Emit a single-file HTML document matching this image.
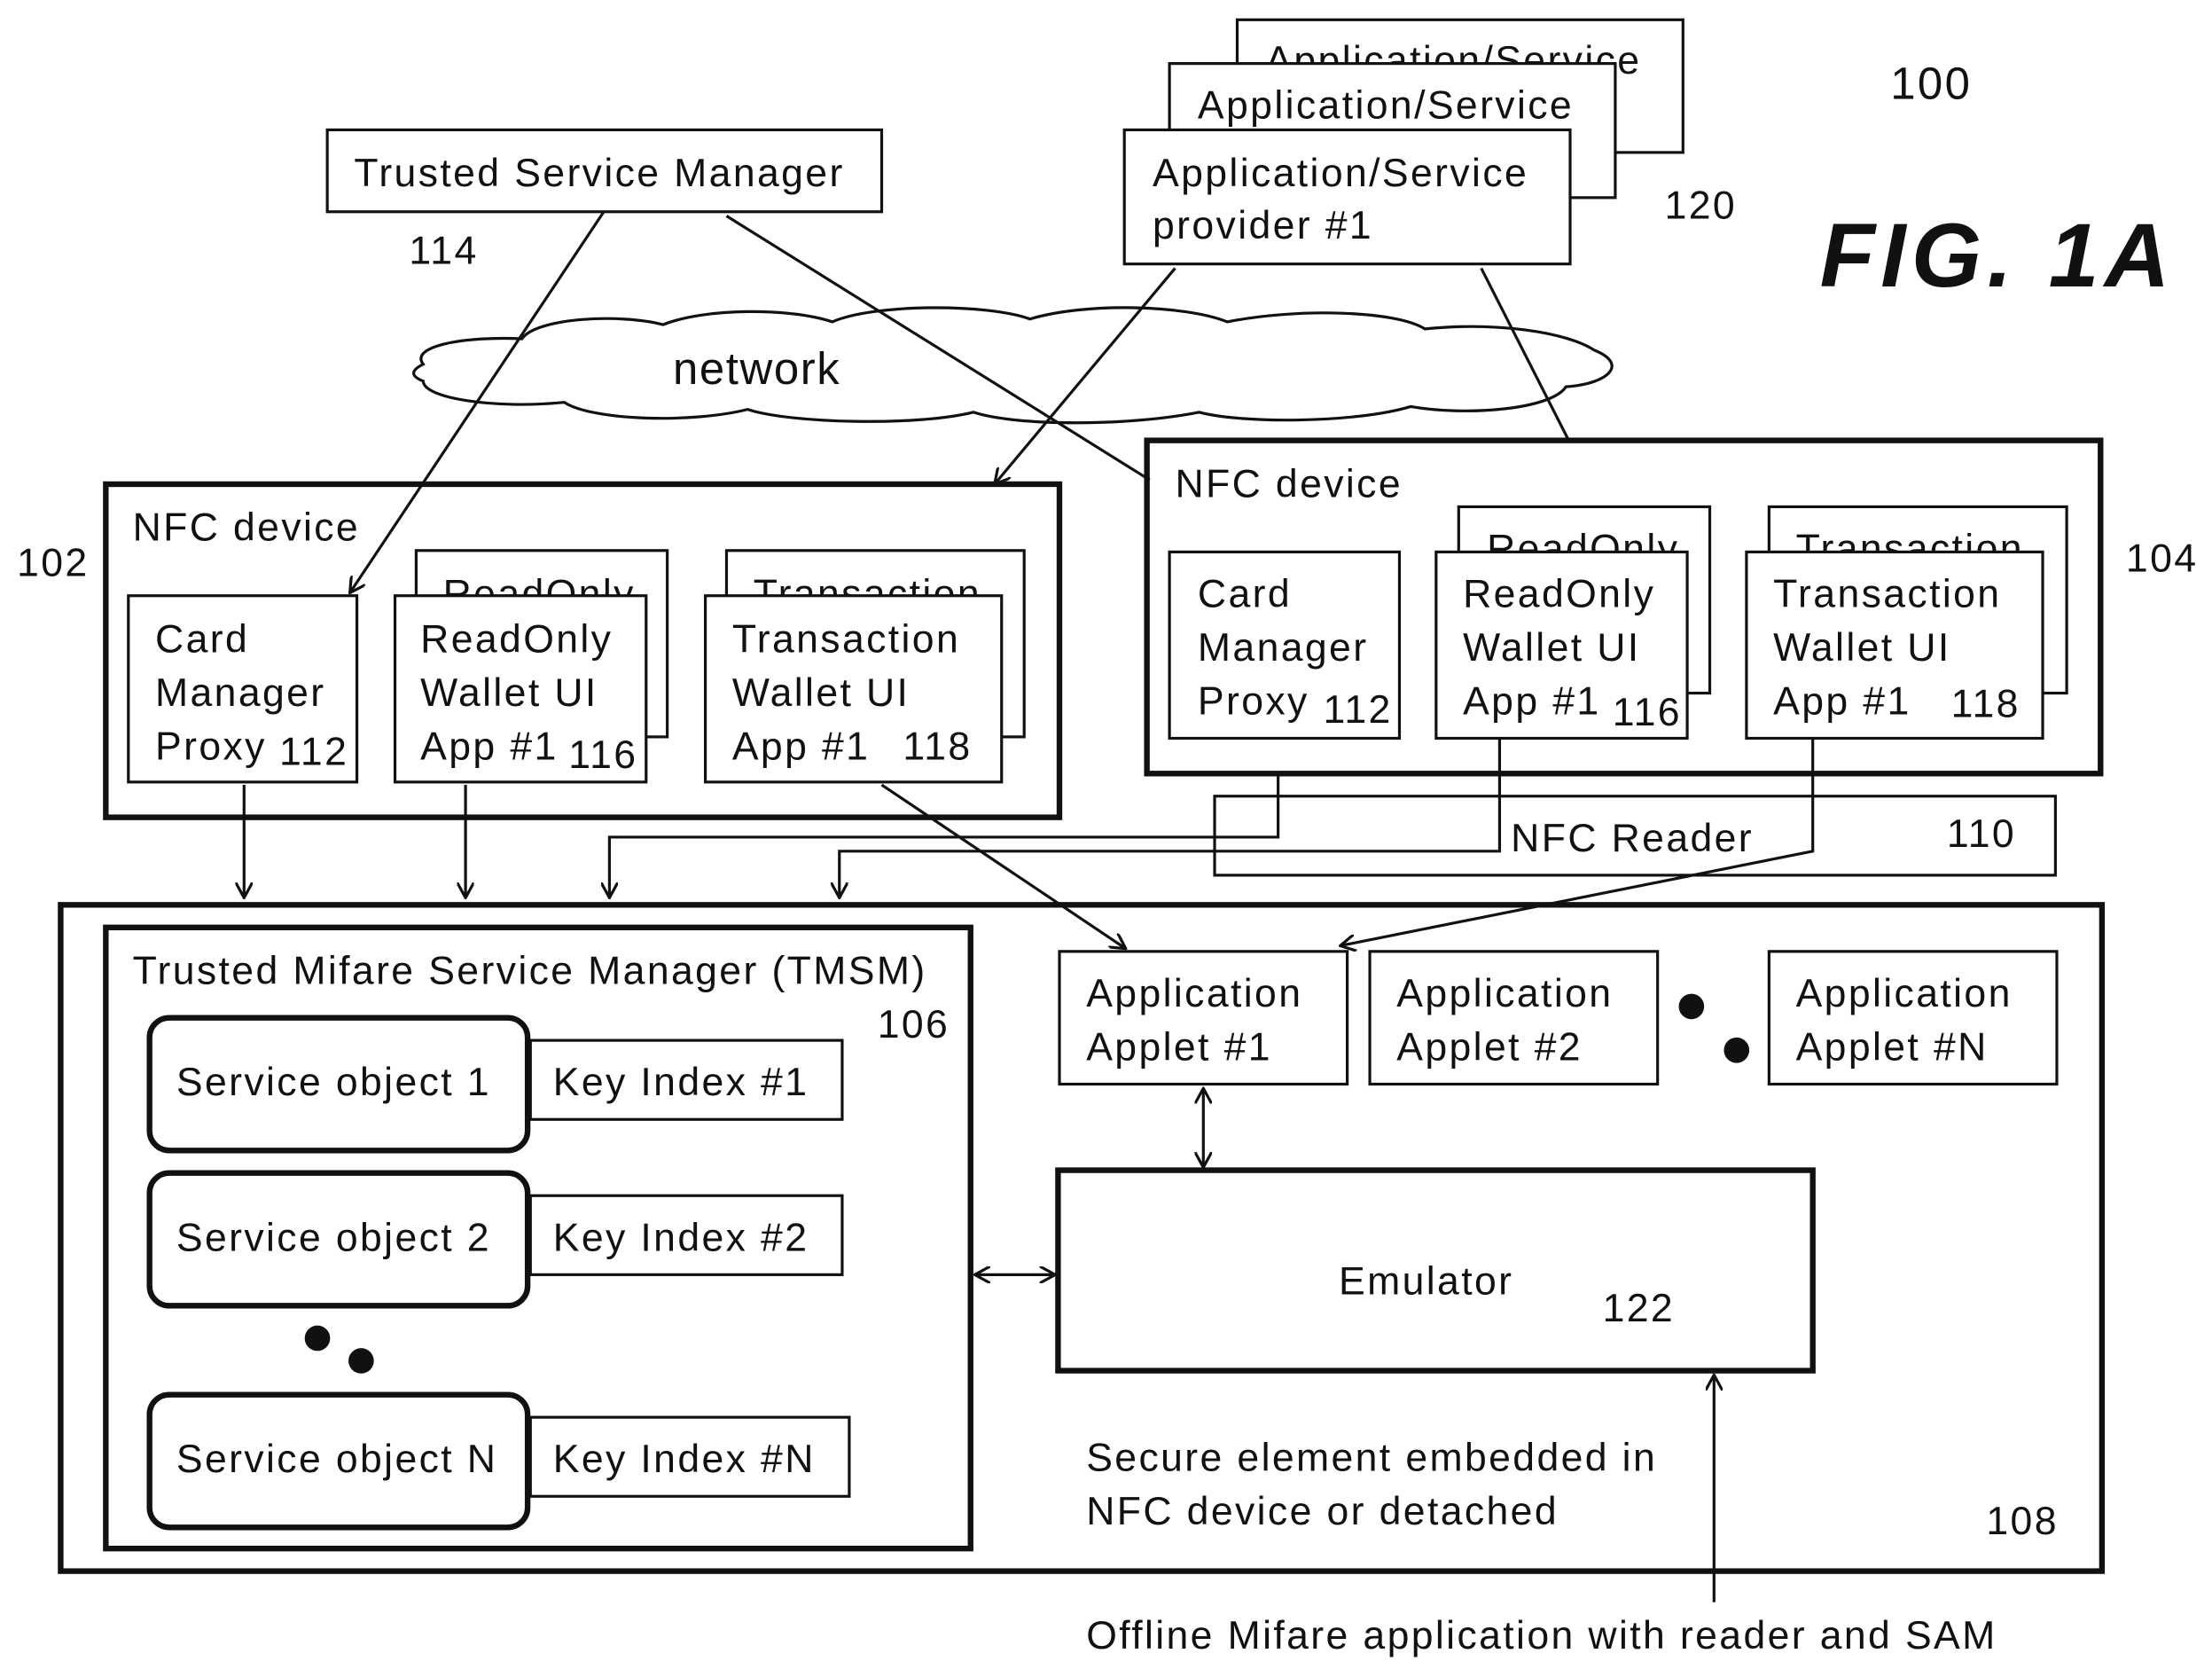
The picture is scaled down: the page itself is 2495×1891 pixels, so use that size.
<!DOCTYPE html>
<html><head><meta charset="utf-8"><style>
html,body{margin:0;padding:0;background:#fff}
svg{display:block}
text{font-family:"Liberation Sans",Arial,sans-serif;font-size:28px;fill:#111;letter-spacing:1.5px}
</style></head><body>
<svg width="2495" height="1891" viewBox="0 0 1568 1188" preserveAspectRatio="none" xmlns="http://www.w3.org/2000/svg">
<defs>
<marker id="a" markerWidth="12" markerHeight="12" refX="11" refY="6" orient="auto" markerUnits="userSpaceOnUse">
<path d="M0,0 L11,6 L0,12" fill="none" stroke="#111" stroke-width="2"/></marker>
<marker id="s" markerWidth="12" markerHeight="12" refX="1" refY="6" orient="auto" markerUnits="userSpaceOnUse">
<path d="M12,0 L1,6 L12,12" fill="none" stroke="#111" stroke-width="2"/></marker>
</defs>
<g fill="#fff" stroke="#111" stroke-width="2">
<rect x="232" y="92" width="393" height="58"/>
<rect x="877" y="14" width="316" height="94"/>
</g>
<text x="897" y="52">Application/Service</text>
<rect x="829" y="45" width="316" height="95" fill="#fff" stroke="#111" stroke-width="2"/>
<text x="849" y="84">Application/Service</text>
<rect x="797" y="92" width="316" height="95" fill="#fff" stroke="#111" stroke-width="2"/>
<path fill="#fff" stroke="#111" stroke-width="2" d="M300,258 C290,245 330,238 370,240 C380,225 440,222 470,230 C500,218 560,218 590,228 C620,215 700,215 730,226 C770,214 840,216 870,228 C920,218 990,220 1010,233 C1060,228 1110,235 1130,248 C1155,258 1140,272 1110,274 C1100,290 1040,295 1000,288 C960,300 880,300 850,292 C800,302 720,302 690,292 C650,302 560,300 530,290 C490,300 420,298 400,285 C350,290 300,282 300,270 C290,266 292,262 300,258 Z"/>
<g fill="#fff" stroke="#111">
<rect x="75" y="343" width="676" height="236" stroke-width="4"/>
<rect x="813" y="312" width="676" height="236" stroke-width="4"/>
<g stroke-width="2">
<rect x="91" y="422" width="162" height="132"/>
<rect x="295" y="390" width="178" height="132"/>
<rect x="515" y="390" width="211" height="132"/>
<rect x="829" y="391" width="163" height="132"/>
<rect x="1034" y="359" width="178" height="132"/>
<rect x="1254" y="359" width="211" height="132"/>
</g></g>
<text x="314" y="430">ReadOnly</text>
<text x="534" y="430">Transaction</text>
<text x="1054" y="398">ReadOnly</text>
<text x="1273" y="398">Transaction</text>
<g fill="#fff" stroke="#111">
<g stroke-width="2">
<rect x="280" y="422" width="178" height="132"/>
<rect x="500" y="422" width="210" height="132"/>
<rect x="1018" y="391" width="178" height="132"/>
<rect x="1238" y="391" width="210" height="132"/>
<rect x="861" y="564" width="596" height="56"/>
</g>
<rect x="43" y="641" width="1447" height="472" stroke-width="4"/>
<rect x="75" y="657" width="613" height="440" stroke-width="4"/>
<rect x="106" y="721" width="268" height="94" rx="14" stroke-width="4"/>
<rect x="106" y="831" width="268" height="94" rx="14" stroke-width="4"/>
<rect x="106" y="988" width="268" height="94" rx="14" stroke-width="4"/>
<g stroke-width="2">
<rect x="376" y="737" width="221" height="56"/>
<rect x="376" y="847" width="221" height="56"/>
<rect x="376" y="1004" width="226" height="56"/>
<rect x="751" y="674" width="204" height="94"/>
<rect x="971" y="674" width="204" height="94"/>
<rect x="1254" y="674" width="204" height="94"/>
</g>
<rect x="750" y="829" width="535" height="142" stroke-width="4"/>
</g>
<g fill="none" stroke="#111" stroke-width="2">
<line x1="428" y1="150" x2="248" y2="420" marker-end="url(#a)"/>
<line x1="515" y1="153" x2="815" y2="340"/>
<line x1="833" y1="190" x2="705" y2="343" marker-end="url(#a)"/>
<line x1="1050" y1="190" x2="1112" y2="312"/>
<line x1="173" y1="556" x2="173" y2="636" marker-end="url(#a)"/>
<line x1="330" y1="556" x2="330" y2="636" marker-end="url(#a)"/>
<polyline points="906,548 906,593 432,593 432,636" marker-end="url(#a)"/>
<polyline points="1063,523 1063,603 595,603 595,636" marker-end="url(#a)"/>
<polyline points="1285,523 1285,603 950,670" marker-end="url(#a)"/>
<line x1="625" y1="556" x2="798" y2="672" marker-end="url(#a)"/>
<line x1="853" y1="771" x2="853" y2="827" marker-start="url(#s)" marker-end="url(#a)"/>
<line x1="691" y1="903" x2="748" y2="903" marker-start="url(#s)" marker-end="url(#a)"/>
<line x1="1215" y1="1135" x2="1215" y2="974" marker-end="url(#a)"/>
</g>
<g fill="#111">
<circle cx="225" cy="948" r="9"/><circle cx="256" cy="964" r="9"/>
<circle cx="1199" cy="713" r="9"/><circle cx="1231" cy="744" r="9"/>
</g>
<text x="251" y="132">Trusted Service Manager</text>
<text x="290" y="187">114</text>
<text x="817" y="132">Application/Service</text>
<text x="817" y="169">provider #1</text>
<text x="1180" y="155">120</text>
<text x="1340" y="70" style="font-size:32px">100</text>
<text x="1290" y="203" style="font-size:64px;font-weight:bold;font-style:italic;letter-spacing:4px">FIG. 1A</text>
<text x="477" y="272" style="font-size:32px;letter-spacing:1px">network</text>
<text x="94" y="383">NFC device</text>
<text x="12" y="408">102</text>
<text x="833" y="352">NFC device</text>
<text x="1507" y="405">104</text>
<text x="110" y="462">Card</text><text x="110" y="500">Manager</text><text x="110" y="538">Proxy</text><text x="198" y="542">112</text>
<text x="298" y="462">ReadOnly</text><text x="298" y="500">Wallet UI</text><text x="298" y="538">App #1</text><text x="403" y="544">116</text>
<text x="519" y="462">Transaction</text><text x="519" y="500">Wallet UI</text><text x="519" y="538">App #1</text><text x="640" y="538">118</text>
<text x="849" y="430">Card</text><text x="849" y="468">Manager</text><text x="849" y="506">Proxy</text><text x="938" y="512">112</text>
<text x="1037" y="430">ReadOnly</text><text x="1037" y="468">Wallet UI</text><text x="1037" y="506">App #1</text><text x="1143" y="514">116</text>
<text x="1257" y="430">Transaction</text><text x="1257" y="468">Wallet UI</text><text x="1257" y="506">App #1</text><text x="1383" y="508">118</text>
<text x="1071" y="603">NFC Reader</text><text x="1380" y="600">110</text>
<text x="94" y="697">Trusted Mifare Service Manager (TMSM)</text>
<text x="622" y="735">106</text>
<text x="125" y="776">Service object 1</text><text x="392" y="776">Key Index #1</text>
<text x="125" y="886">Service object 2</text><text x="392" y="886">Key Index #2</text>
<text x="125" y="1043">Service object N</text><text x="392" y="1043">Key Index #N</text>
<text x="770" y="713">Application</text><text x="770" y="751">Applet #1</text>
<text x="990" y="713">Application</text><text x="990" y="751">Applet #2</text>
<text x="1273" y="713">Application</text><text x="1273" y="751">Applet #N</text>
<text x="949" y="917">Emulator</text><text x="1136" y="936">122</text>
<text x="770" y="1042">Secure element embedded in</text>
<text x="770" y="1080">NFC device or detached</text>
<text x="1408" y="1087">108</text>
<text x="770" y="1168">Offline Mifare application with reader and SAM</text>
</svg>
</body></html>
